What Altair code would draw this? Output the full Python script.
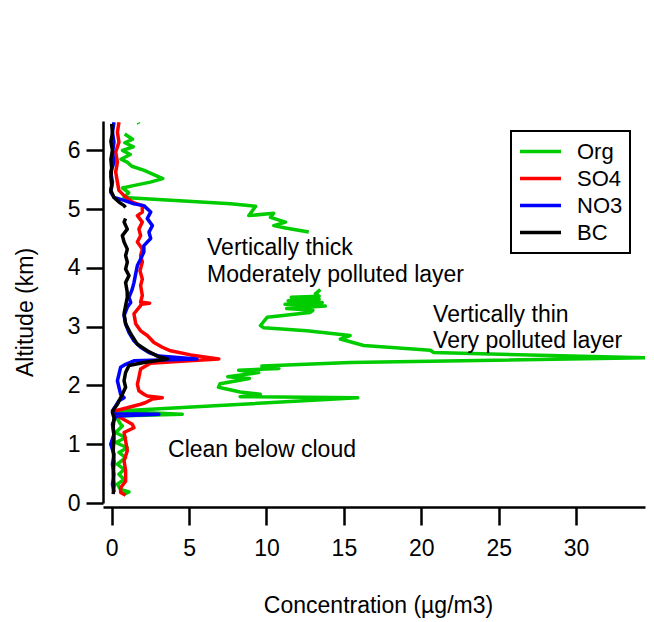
import altair as alt
import pandas as pd

FONT = "Liberation Sans, Arial, sans-serif"

species = ["Org", "SO4", "NO3", "BC"]
colors = ["#00CC00", "#FF0000", "#0000FF", "#000000"]
draw_order = ["Org", "SO4", "NO3", "BC"]

# None marks a gap in the profile
org_alt = [6.47, 6.45, None,
           6.28, 6.19, 6.13, 6.06, 6.0, 5.93, 5.85, 5.8, 5.73, 5.66, 5.52, 5.46, 5.4, 5.36, 5.28, 5.2,
           5.09, 5.05, 4.89, 4.93, 4.86, 4.78, 4.72, 4.68, 4.61, None,
           3.63, 3.56, 3.52, 3.5, 3.47, 3.44, 3.41, 3.38, 3.35, 3.31, 3.28, 3.24,
           3.16, 3.02, 2.98, 2.93, 2.85, 2.79, 2.68, 2.6, 2.56,
           2.47, 2.39, 2.33, 2.29, 2.26, 2.22, 2.15, 2.12, 2.03, 1.97, 1.89, 1.85, 1.81, 1.79,
           1.56, 1.51, 1.48, 1.34, 1.31, 1.2, 1.11, 1.03, 0.94, 0.86, 0.77, 0.66, 0.57, 0.49, 0.4,
           0.32, 0.23, 0.19, 0.15]
org_val = [1.72, 1.76, None,
           0.84, 1.35, 0.85, 1.4, 0.7, 1.2, 0.6, 1.0, 1.3, 2.1, 3.3, 2.5, 1.4, 0.7, 1.1, 0.8,
           7.7, 9.3, 8.86, 10.47, 10.26, 11.23, 10.47, 11.23, 12.73, None,
           13.48, 13.16, 13.4, 11.6, 13.4, 11.4, 13.6, 11.2, 13.8, 11.3, 13.0, 12.8,
           10.04, 9.61, 9.83, 12.6, 15.4, 14.77, 16.28, 20.58, 20.8,
           34.45, 15.4, 9.7, 10.8, 8.2, 9.5, 7.5, 8.9, 7.0, 6.9, 8.3, 9.6, 8.3, 15.9,
           0.15, 4.56, 0.26, 0.58, 0.69, 0.26, 0.9, 0.26, 1.01, 0.47, 0.9, 0.37, 0.8, 0.47, 0.8,
           0.37, 0.58, 1.12, 0.8]

so4_alt = [6.48, 6.31, 6.14, 5.97, 5.8, 5.63, 5.46, 5.32, 5.23, 5.12, 5.06,
           4.95, 4.89, 4.78, 4.66, 4.55, 4.44, 4.32, 4.21, 4.1,
           3.95, 3.81, 3.7, 3.53, 3.42, 3.4, 3.38, 3.36,
           3.22, 3.05, 2.93, 2.85, 2.73, 2.65, 2.59, 2.52, 2.45, 2.41, 2.38,
           2.28, 2.14, 2.02, 1.91, 1.85, 1.82, 1.79, 1.77, 1.71, 1.68, 1.62, 1.57, 1.51, 1.45,
           1.34, 1.28, 1.2, 1.06, 0.89, 0.72, 0.55, 0.37, 0.26, 0.18, 0.13]
so4_val = [0.47, 0.37, 0.47, 0.26, 0.37, 0.26, 0.37, 0.47, 0.8, 1.33, 1.98,
           1.98, 1.66, 1.98, 1.76, 1.87, 1.66, 1.98, 1.87, 1.98,
           1.83, 1.98, 1.87, 1.98, 1.87, 2.45, 1.9, 1.87,
           1.44, 1.55, 1.87, 2.3, 2.73, 3.27, 3.8, 5.1, 6.92, 4.5, 2.5,
           1.87, 1.76, 1.66, 1.76, 2.08, 2.3, 3.27, 2.63, 2.2, 1.87, 1.01, 0.26, 0.15, 0.58,
           1.33, 1.44, 0.8, 0.9, 1.01, 0.8, 0.9, 0.9, 0.58, 0.58, 0.9]

no3_alt = [6.48, 6.31, 6.14, 5.97, 5.8, 5.63, 5.46, 5.29, 5.2, 5.15, 5.09, 5.06,
           4.95, 4.84, 4.72, 4.61, 4.5, 4.38, 4.27, 4.15, 4.04,
           3.9, 3.75, 3.64, 3.5, 3.41, 3.33, 3.19, 3.05,
           2.9, 2.76, 2.65, 2.56, 2.5, 2.45, 2.42, 2.36, 2.31, 2.19, 2.08,
           1.97, 1.85, 1.79, 1.74, 1.65, 1.57, 1.52, 1.51, 1.48,
           1.34, 1.17, 1.0, 0.83, 0.66, 0.49, 0.32, 0.18]
no3_val = [0.15, 0.05, 0.15, 0.05, 0.15, -0.06, 0.05, -0.06, 0.15, 0.8, 1.44, 2.08,
           2.52, 2.3, 2.63, 2.41, 2.52, 2.08, 2.08, 1.87, 1.66,
           1.55, 1.44, 1.33, 1.12, 1.23, 1.01, 0.8, 0.9,
           1.12, 1.44, 1.87, 2.41, 3.05, 5.5, 1.44, 0.9, 0.58, 0.47, 0.37,
           0.47, 0.58, 0.8, 0.47, 0.26, 0.05, 0.15, 3.05, 0.26,
           0.05, 0.15, -0.06, 0.15, 0.05, 0.15, 0.05, 0.15]

bc_alt = [6.45, 6.3, 6.15, 6.0, 5.85, 5.7, 5.55, 5.4, 5.32, 5.2, 5.12, 5.06, 5.03, None,
          4.84, 4.78, 4.66, 4.55, 4.44, 4.32, 4.21, 4.1, 3.98, 3.87, 3.75, 3.6, 3.5, 3.36,
          3.22, 3.05, 2.88, 2.7, 2.59, 2.5, 2.45, 2.39, 2.34, 2.22, 2.08,
          1.97, 1.85, 1.68, 1.6, 1.54, 1.45, 1.3, 1.1, 0.9, 0.7, 0.5, 0.3, 0.15]
bc_val = [0.0, 0.05, -0.05, 0.05, -0.05, 0.0, -0.05, 0.0, -0.06, 0.15, 0.47, 0.8, 0.9, None,
          0.9, 0.8, 1.01, 0.69, 0.8, 1.01, 0.9, 1.01, 0.9, 1.12, 0.9, 1.0, 1.01, 0.9,
          0.8, 0.9, 1.23, 1.66, 2.3, 2.95, 3.6, 2.08, 1.12, 0.9, 0.8,
          0.9, 0.69, 0.37, 0.15, 0.05, 0.15, 0.1, 0.15, 0.1, 0.15, 0.1, 0.15, 0.1]

x_ticks = [0, 5, 10, 15, 20, 25, 30]
y_ticks = [0, 1, 2, 3, 4, 5, 6]

notes = ["Vertically thick", "Moderately polluted layer", "Vertically thin",
         "Very polluted layer", "Clean below cloud"]
note_conc = [6.16, 6.16, 20.76, 20.76, 3.64]
note_alt = [4.22, 3.76, 3.08, 2.63, 0.79]


def build(name, alts, vals):
    assert len(alts) == len(vals)
    rows, seg = [], 0
    for i, (a, v) in enumerate(zip(alts, vals)):
        if a is None or v is None:
            seg += 1
            continue
        rows.append({"species": name, "seg": f"{name}_{seg}", "i": i, "alt": a, "conc": v})
    return rows


rows = []
for name, a, v in [("Org", org_alt, org_val), ("SO4", so4_alt, so4_val),
                   ("NO3", no3_alt, no3_val), ("BC", bc_alt, bc_val)]:
    rows += build(name, a, v)
df = pd.DataFrame(rows)
notes_df = pd.DataFrame({"t": notes, "conc": note_conc, "alt": note_alt})

x_enc = alt.X("conc:Q",
              scale=alt.Scale(domain=[-0.56, 34.45], nice=False, zero=False),
              axis=alt.Axis(values=x_ticks, title="Concentration (µg/m3)", offset=4,
                            tickSize=18, labelPadding=12, titleX=275, titleY=98,
                            titleAlign="center", titleBaseline="middle"))
y_enc = alt.Y("alt:Q",
              scale=alt.Scale(domain=[0, 6.5], nice=False, zero=False),
              axis=alt.Axis(values=y_ticks, title="Altitude (km)", tickSize=17,
                            labelPadding=6, titleX=-78, titleY=191, titleAngle=270,
                            titleAlign="center", titleBaseline="middle"))
color_enc = alt.Color("species:N",
                      scale=alt.Scale(domain=species, range=colors),
                      legend=alt.Legend(title=None, orient="none", legendX=408, legendY=10))

layers = []
for name in draw_order:
    layers.append(
        alt.Chart(df).transform_filter(alt.datum.species == name)
        .mark_line(strokeWidth=3.5, clip=True, strokeJoin="round")
        .encode(x=x_enc, y=y_enc, color=color_enc,
                detail="seg:N", order=alt.Order("i:Q"))
    )

text_layer = alt.Chart(notes_df).mark_text(
    align="left", baseline="alphabetic", fontSize=23, font=FONT, color="black"
).encode(x=x_enc, y=y_enc, text="t:N")

chart = alt.layer(*layers, text_layer).properties(
    width=542, height=382,
    autosize=alt.AutoSizeParams(type="none"),
    padding={"left": 103, "top": 121, "right": 9, "bottom": 119},
).configure_view(stroke=None).configure_axis(
    domainColor="black", domainWidth=2.5, tickColor="black", tickWidth=2.5,
    labelFontSize=23, labelFont=FONT, labelColor="black",
    titleFontSize=23, titleFont=FONT, titleFontWeight="normal", titleColor="black",
    grid=False,
).configure_legend(
    strokeColor="black", strokeWidth=2, padding=7, symbolType="stroke",
    symbolSize=1681, symbolStrokeWidth=3.5, labelFontSize=22, labelFont=FONT,
    labelColor="black", clipHeight=27, rowPadding=0, labelOffset=14,
)

chart.save("out.html", embed_options={"renderer": "svg", "actions": False})
